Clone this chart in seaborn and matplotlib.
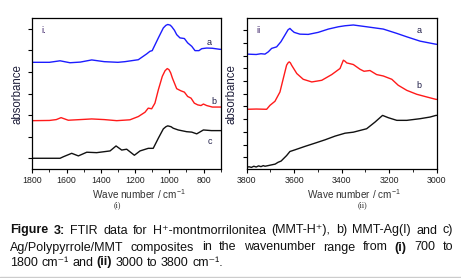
import numpy as np
import pandas as pd
import seaborn as sns
import matplotlib
matplotlib.use("Agg")
import matplotlib.pyplot as plt
from matplotlib.lines import Line2D
from matplotlib.ticker import MultipleLocator

# ---------------- data ----------------
# Panel (i): 700-1800 cm-1
wn_a1 = [1800, 1700, 1638, 1580, 1520, 1453, 1380, 1300, 1259, 1181, 1132, 1113, 1100, 1064, 1035,
         1020, 1009, 995, 986, 970, 957, 938, 912, 893, 869, 850, 827, 811, 782, 749, 704, 700]
ab_a1 = [4.45, 4.45, 4.52, 4.43, 4.46, 4.56, 4.48, 4.45, 4.48, 4.57, 4.84, 4.96, 4.99, 5.58, 6.04,
         6.16, 6.20, 6.17, 6.10, 5.93, 5.73, 5.58, 5.55, 5.35, 5.19, 4.99, 4.99, 5.08, 5.11, 5.10,
         5.05, 5.05]

wn_b1 = [1800, 1700, 1660, 1632, 1590, 1520, 1453, 1380, 1307, 1230, 1181, 1142, 1123, 1103, 1084,
         1064, 1041, 1025, 1012, 1002, 992, 982, 957, 932, 912, 893, 873, 854, 834, 815, 801, 782,
         749, 704, 700]
ab_b1 = [1.75, 1.76, 1.80, 1.89, 1.77, 1.80, 1.83, 1.80, 1.75, 1.79, 1.94, 2.14, 2.33, 2.30, 2.56,
         3.18, 3.80, 4.06, 4.16, 4.11, 3.96, 3.72, 3.23, 3.13, 3.07, 2.87, 2.79, 2.56, 2.48, 2.45,
         2.52, 2.45, 2.38, 2.38, 2.38]

wn_c1 = [1800, 1700, 1638, 1619, 1570, 1531, 1482, 1424, 1346, 1311, 1278, 1249, 1204, 1171, 1123,
         1094, 1064, 1035, 1020, 1009, 990, 977, 948, 899, 869, 840, 801, 754, 704, 700]
ab_c1 = [0.01, 0.01, 0.01, 0.08, 0.24, 0.12, 0.29, 0.27, 0.35, 0.58, 0.39, 0.43, 0.15, 0.35, 0.47,
         0.47, 0.94, 1.37, 1.47, 1.51, 1.47, 1.40, 1.32, 1.24, 1.22, 1.14, 1.32, 1.29, 1.29, 1.29]

# Panel (ii): 3000-3800 cm-1
wn_a2 = [3800, 3760, 3740, 3723, 3709, 3695, 3674, 3656, 3639, 3626, 3618, 3610, 3600, 3576, 3541,
         3499, 3456, 3414, 3386, 3351, 3295, 3225, 3168, 3126, 3070, 3007, 3000]
ab_a2 = [8.11, 8.08, 8.14, 8.11, 8.29, 8.56, 8.68, 9.08, 9.61, 10.02, 10.13, 9.98, 9.82, 9.68, 9.66,
         9.82, 10.08, 10.26, 10.34, 10.40, 10.26, 10.08, 9.74, 9.47, 9.13, 8.90, 8.88]

wn_b2 = [3800, 3760, 3716, 3702, 3681, 3660, 3646, 3632, 3626, 3621, 3616, 3611, 3589, 3562, 3526,
         3484, 3442, 3407, 3398, 3393, 3386, 3379, 3351, 3323, 3306, 3281, 3253, 3225, 3189, 3162,
         3126, 3084, 3042, 3003, 3000]
ab_b2 = [3.77, 3.79, 3.77, 4.08, 4.40, 5.13, 6.19, 7.24, 7.42, 7.50, 7.42, 7.24, 6.58, 6.13, 5.92,
         6.05, 6.50, 6.98, 7.40, 7.63, 7.55, 7.42, 7.29, 6.92, 6.76, 6.82, 6.50, 6.39, 6.13, 5.66,
         5.26, 4.95, 4.74, 4.55, 4.55]

wn_c2 = [3800, 3790, 3780, 3770, 3760, 3750, 3740, 3730, 3723, 3710, 3695, 3680, 3668, 3655, 3646,
         3632, 3618, 3597, 3555, 3512, 3470, 3428, 3386, 3351, 3295, 3260, 3228, 3204, 3168, 3126,
         3070, 3028, 3003, 3000]
ab_c2 = [-0.79, -0.75, -0.80, -0.71, -0.77, -0.68, -0.74, -0.66, -0.71, -0.66, -0.60, -0.54, -0.40,
         -0.30, -0.13, 0.13, 0.45, 0.58, 0.85, 1.11, 1.37, 1.66, 1.89, 1.97, 2.24, 2.76, 3.29, 3.11,
         2.90, 2.90, 3.03, 3.16, 3.29, 3.29]

series_colors = {"a": "#1c1cff", "b": "#ff1a1a", "c": "#111111"}
xticks1 = [1800, 1600, 1400, 1200, 1000, 800]
xticks2 = [3800, 3600, 3400, 3200, 3000]

# ---------------- style ----------------
sns.set_style("ticks")
FAM = ["Liberation Sans", "DejaVu Sans"]
plt.rcParams["font.family"] = FAM
plt.rcParams["mathtext.fontset"] = "custom"
plt.rcParams["mathtext.rm"] = "Liberation Sans"
plt.rcParams["mathtext.it"] = "Liberation Sans:italic"
plt.rcParams["axes.linewidth"] = 0.9
plt.rcParams["axes.edgecolor"] = "black"

W, H = 461, 278
fig = plt.figure(figsize=(W / 100, H / 100), dpi=100)
fig.patch.set_facecolor("white")


def px_axes(l, r, t, b):
    return fig.add_axes([l / W, 1 - b / H, (r - l) / W, (b - t) / H])


ax1 = px_axes(32.3, 220.7, 18, 169.3)
ax2 = px_axes(246.7, 436.7, 18, 169.3)

df1 = pd.concat([
    pd.DataFrame({"wn": wn_a1, "ab": ab_a1, "s": "a"}),
    pd.DataFrame({"wn": wn_b1, "ab": ab_b1, "s": "b"}),
    pd.DataFrame({"wn": wn_c1, "ab": ab_c1, "s": "c"}),
])
df2 = pd.concat([
    pd.DataFrame({"wn": wn_a2, "ab": ab_a2, "s": "a"}),
    pd.DataFrame({"wn": wn_b2, "ab": ab_b2, "s": "b"}),
    pd.DataFrame({"wn": wn_c2, "ab": ab_c2, "s": "c"}),
])

for ax, df in ((ax1, df1), (ax2, df2)):
    sns.lineplot(data=df, x="wn", y="ab", hue="s", palette=series_colors, ax=ax,
                 legend=False, linewidth=1.0, estimator=None, sort=True)

tick_kw = dict(direction="out", length=3, width=0.8, color="black",
               labelsize=6.3, labelcolor="#222222", pad=1.5)

# panel (i)
ax1.set_xlim(1800, 700)
ax1.set_ylim(-0.5, 6.5)
ax1.set_xticks(xticks1)
ax1.set_xticklabels([str(v) for v in xticks1])
ax1.xaxis.set_minor_locator(MultipleLocator(100))
ax1.yaxis.set_major_locator(MultipleLocator(1))
ax1.set_yticklabels([])
ax1.tick_params(axis="both", which="major", **tick_kw)
ax1.tick_params(axis="x", which="minor", direction="out", length=2, width=0.7)

# panel (ii)
ax2.set_xlim(3800, 3000)
ax2.set_ylim(-0.95, 10.95)
ax2.set_xticks(xticks2)
ax2.set_xticklabels([str(v) for v in xticks2])
ax2.xaxis.set_minor_locator(MultipleLocator(100))
ax2.yaxis.set_major_locator(MultipleLocator(1))
ax2.set_yticklabels([])
ax2.tick_params(axis="both", which="major", **tick_kw)
ax2.tick_params(axis="x", which="minor", direction="out", length=2, width=0.7)

for ax in (ax1, ax2):
    ax.set_xlabel("Wave number / cm$^{-1}$", fontsize=7.2, color="#333333")
    ax.xaxis.set_label_coords(0.566, -0.12)
    ax.set_ylabel("absorbance", fontsize=8.3, color="#1e1e3a", labelpad=2)
    for sp in ax.spines.values():
        sp.set_visible(True)
        sp.set_color("black")

lab_col = "#22204a"
ax1.text(0.05, 0.92, "i.", transform=ax1.transAxes, fontsize=6.5, color="#3a1f66", va="center")
ax2.text(0.05, 0.92, "ii", transform=ax2.transAxes, fontsize=6.5, color="#3a1f66", va="center")
ax1.text(765, 5.35, "a", fontsize=6.5, color=lab_col, ha="center", va="center")
ax1.text(740, 2.62, "b", fontsize=6.5, color=lab_col, ha="center", va="center")
ax1.text(765, 0.77, "c", fontsize=6.5, color=lab_col, ha="center", va="center")
ax2.text(3075, 10.0, "a", fontsize=6.5, color=lab_col, ha="center", va="center")
ax2.text(3075, 5.65, "b", fontsize=6.5, color=lab_col, ha="center", va="center")

fig.text(117 / W, 1 - 205 / H, "(i)", family=["Liberation Serif", "DejaVu Serif"], fontsize=5.6,
         ha="center", va="center", color="#222222")
fig.text(362 / W, 1 - 205 / H, "(ii)", family=["Liberation Serif", "DejaVu Serif"], fontsize=5.6,
         ha="center", va="center", color="#222222")

# ---------------- caption (justified) ----------------
CAP_FS = 9.0
line1 = [("Figure", True), ("3:", True), ("FTIR", False), ("data", False), ("for", False),
         ("H\u207a-montmorrilonitea", False), ("(MMT-H\u207a),", False), ("b)", False),
         ("MMT-Ag(I)", False), ("and", False), ("c)", False)]
line2 = [("Ag/Polypyrrole/MMT", False), ("composites", False), ("in", False), ("the", False),
         ("wavenumber", False), ("range", False), ("from", False), ("(i)", True), ("700", False),
         ("to", False)]
line3 = [("1800", False), ("cm\u207b\u00b9", False), ("and", False), ("(ii)", True), ("3000", False),
         ("to", False), ("3800", False), ("cm\u207b\u00b9.", False)]

fig.canvas.draw()
renderer = fig.canvas.get_renderer()


def place_line(tokens, ybase_px, justify, x0=10.0, x1=453.0):
    texts, widths = [], []
    for s, bold in tokens:
        t = fig.text(0, 1 - ybase_px / H, s, fontsize=CAP_FS, family=FAM,
                     fontweight="bold" if bold else "normal", color="#111111",
                     ha="left", va="baseline")
        bb = t.get_window_extent(renderer)
        texts.append(t)
        widths.append(bb.width)
    space = fig.text(0, 0, "a a", fontsize=CAP_FS, family=FAM)
    sw = space.get_window_extent(renderer).width
    aa = fig.text(0, 0, "aa", fontsize=CAP_FS, family=FAM)
    sw -= aa.get_window_extent(renderer).width
    space.remove()
    aa.remove()
    if justify and len(tokens) > 1:
        gap = (x1 - x0 - sum(widths)) / (len(tokens) - 1)
    else:
        gap = sw
    x = x0
    for t, w in zip(texts, widths):
        t.set_x(x / W)
        x += w + gap


place_line(line1, 233.5, True)
place_line(line2, 250.5, True)
place_line(line3, 265.5, False)

fig.add_artist(Line2D([0, 1], [1 - 276.5 / H, 1 - 276.5 / H], transform=fig.transFigure,
                      color="#cccccc", linewidth=1.0))

fig.savefig("out.png", dpi=100, facecolor="white")
